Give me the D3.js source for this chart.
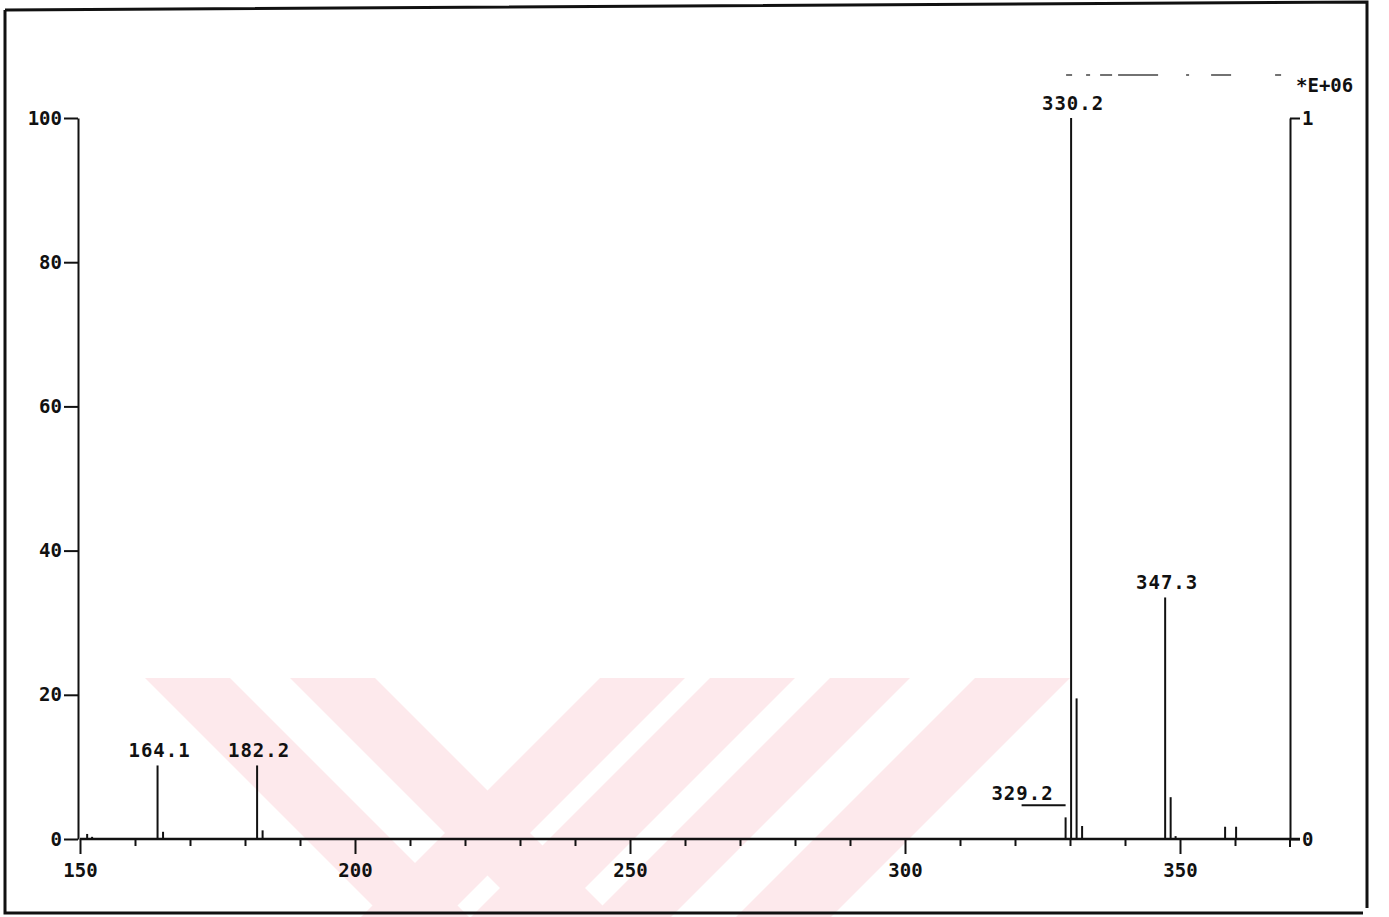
<!DOCTYPE html>
<html>
<head>
<meta charset="utf-8">
<title>Mass spectrum</title>
<script src="https://d3js.org/d3.v7.min.js"></script>
<style>
  body { margin: 0; background: #fff; }
  text { font-family: "DejaVu Sans Mono", "Liberation Mono", monospace; font-weight: bold; fill: #111; }
</style>
</head>
<body>
<div id="chart"></div>
<script>
  // m/z values and relative intensities (%)
  const masses      = [151.3, 152.2, 164.1, 165.1, 182.2, 183.2, 329.2, 330.2, 331.2, 332.2, 347.3, 348.3, 349.2, 358.2, 360.2];
  const intensities = [0.7,   0.3,   10.2,  1.0,   10.2,  1.2,   3.0,   100,   19.5,  1.8,   33.5,  5.8,   0.4,   1.7,   1.7];
  const peakLabels  = ["164.1", "182.2", "329.2", "330.2", "347.3"];

  const xMajor = [150, 200, 250, 300, 350];
  const xMinor = [160, 170, 180, 190, 210, 220, 230, 240, 260, 270, 280, 290, 310, 320, 330, 340, 360];
  const yTicks = [0, 20, 40, 60, 80, 100];
  const rightTicks = [0, 1];
  const scaleNote = "*E+06";

  const W = 1389, H = 917;
  const svg = d3.select("#chart").append("svg")
    .attr("width", W)
    .attr("height", H);

  const x = d3.scaleLinear().domain([150, 370]).range([80, 1290]);
  const y = d3.scaleLinear().domain([0, 100]).range([839, 118]);
  const yr = d3.scaleLinear().domain([0, 1]).range([839, 118]);

  // faint watermark stripes in the background (scanned page)
  const wm = svg.append("g").attr("fill", "#fde9ec");
  const wmTop = 678, wmBot = 917, wmH = wmBot - wmTop;
  // down-right stripes: [x at top, width]
  [[145, 85], [290, 85]].forEach(s => {
    wm.append("polygon").attr("points",
      `${s[0]},${wmTop} ${s[0] + s[1]},${wmTop} ${s[0] + s[1] + wmH},${wmBot} ${s[0] + wmH},${wmBot}`);
  });
  // down-left stripes
  [[600, 85], [710, 85], [830, 80], [975, 95]].forEach(s => {
    wm.append("polygon").attr("points",
      `${s[0]},${wmTop} ${s[0] + s[1]},${wmTop} ${s[0] + s[1] - wmH},${wmBot} ${s[0] - wmH},${wmBot}`);
  });

  // page frame
  svg.append("path")
    .attr("d", "M5,10 L1367,2 L1367,908 M1363,913 L5,913 L5,10")
    .attr("fill", "none")
    .attr("stroke", "#111")
    .attr("stroke-width", 3);

  // x axis: major + minor ticks
  const gx = svg.append("g")
    .attr("transform", `translate(0,${y(0)})`)
    .call(d3.axisBottom(x).tickValues(xMajor).tickSize(15).tickSizeOuter(0).tickPadding(6).tickFormat(d3.format("d")));
  gx.select(".domain").remove();
  gx.selectAll("line").attr("stroke", "#111").attr("stroke-width", 2);
  gx.selectAll("text").style("font-size", "19px").attr("dy", "0.9em");

  const gm = svg.append("g")
    .attr("transform", `translate(0,${y(0)})`)
    .call(d3.axisBottom(x).tickValues(xMinor).tickSize(7).tickFormat(""));
  gm.select(".domain").remove();
  gm.selectAll("line").attr("stroke", "#111").attr("stroke-width", 2);

  // baseline
  svg.append("line")
    .attr("x1", x(150)).attr("x2", x(370) + 10)
    .attr("y1", y(0)).attr("y2", y(0))
    .attr("stroke", "#111").attr("stroke-width", 2.4);

  // left y axis
  const gy = svg.append("g")
    .attr("transform", `translate(${x(150) - 2},0)`)
    .call(d3.axisLeft(y).tickValues(yTicks).tickSize(14).tickSizeOuter(0).tickPadding(2).tickFormat(d3.format("d")));
  gy.select(".domain").attr("stroke", "#111").attr("stroke-width", 2);
  gy.selectAll("line").attr("stroke", "#111").attr("stroke-width", 2);
  gy.selectAll("text").style("font-size", "19px");

  // right axis (absolute scale)
  const gr = svg.append("g")
    .attr("transform", `translate(${x(370)},0)`)
    .call(d3.axisRight(yr).tickValues(rightTicks).tickSize(10).tickSizeOuter(0).tickPadding(2).tickFormat(d3.format("d")));
  gr.select(".domain").attr("stroke", "#111").attr("stroke-width", 2);
  gr.selectAll("line").attr("stroke", "#111").attr("stroke-width", 2);
  gr.selectAll("text").style("font-size", "19px");
  svg.append("line")
    .attr("x1", x(370)).attr("x2", x(370))
    .attr("y1", y(0)).attr("y2", y(0) + 8)
    .attr("stroke", "#111").attr("stroke-width", 2);

  svg.append("text")
    .attr("x", x(370) + 6).attr("y", 92)
    .style("font-size", "19px")
    .text(scaleNote);

  // faint dashed trace along the top
  svg.append("line")
    .attr("x1", x(330.2) - 5).attr("x2", x(370) - 4)
    .attr("y1", 75).attr("y2", 75)
    .attr("stroke", "#444").attr("stroke-width", 1.5)
    .attr("stroke-dasharray", "6 14 4 10 12 6 40 28 3 22 20 44");

  // peaks
  const peaks = masses.map((m, i) => ({ m: m, v: intensities[i] }));
  svg.append("g").selectAll("line")
    .data(peaks)
    .join("line")
    .attr("x1", d => x(d.m)).attr("x2", d => x(d.m))
    .attr("y1", y(0)).attr("y2", d => y(d.v))
    .attr("stroke", "#111")
    .attr("stroke-width", 2);

  // peak labels
  const labelled = peaks.filter(d => peakLabels.includes(d.m.toFixed(1)));
  labelled.forEach(d => {
    const txt = d.m.toFixed(1);
    if (txt === "329.2") {
      svg.append("text")
        .attr("x", x(d.m) - 12).attr("y", y(d.v) - 17)
        .attr("text-anchor", "end")
        .style("font-size", "19px")
        .style("letter-spacing", "1px")
        .text(txt);
      svg.append("line")
        .attr("x1", x(d.m) - 44).attr("x2", x(d.m))
        .attr("y1", y(d.v) - 12).attr("y2", y(d.v) - 12)
        .attr("stroke", "#111").attr("stroke-width", 2);
    } else {
      svg.append("text")
        .attr("x", x(d.m) + 2).attr("y", y(d.v) - 8)
        .attr("text-anchor", "middle")
        .style("font-size", "19px")
        .style("letter-spacing", "1px")
        .text(txt);
    }
  });
</script>
</body>
</html>
